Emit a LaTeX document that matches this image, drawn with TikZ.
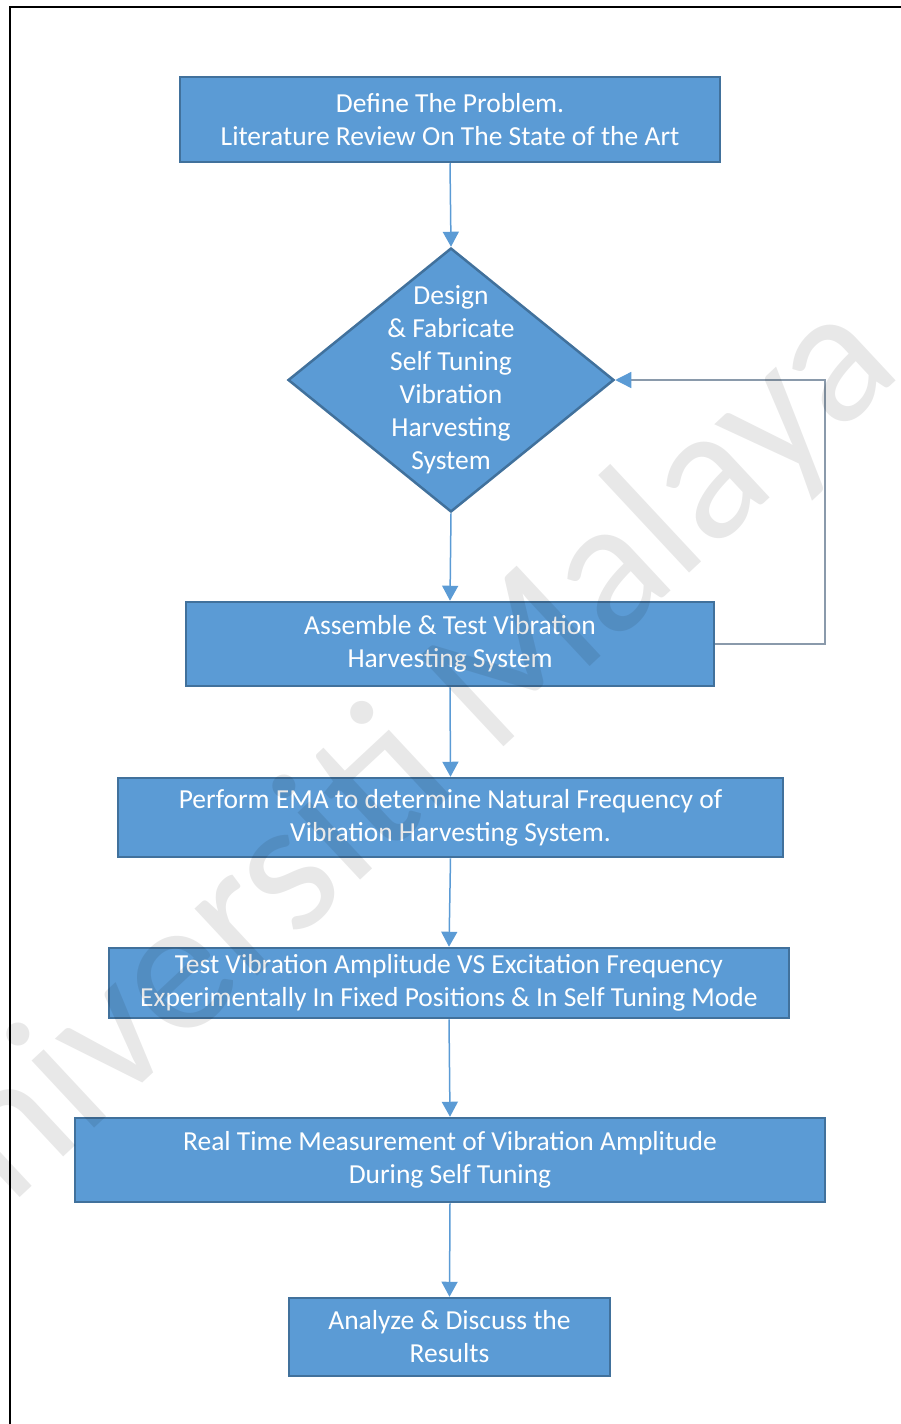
\documentclass[tikz,border=0pt]{standalone}
\usepackage{fontspec}
\setmainfont{Carlito}
\usetikzlibrary{shapes.geometric, arrows.meta}
\definecolor{boxblue}{HTML}{5B9BD5}
\definecolor{boxline}{HTML}{41719C}
\definecolor{loopgray}{HTML}{8A9AAB}

\begin{document}
\begin{tikzpicture}[x=1pt, y=-1pt]
        \tikzstyle{flow_box}=[draw=boxline, line width=2.5pt, fill=boxblue, shape=rectangle, text=white, align=center, inner sep=0pt, font=\fontsize{27.5}{33}\selectfont];
        \tikzstyle{flow_dia}=[draw=boxline, line width=2.5pt, fill=boxblue, shape=diamond, inner sep=0pt, minimum width=326pt, minimum height=264pt];
        \tikzstyle{flow_text}=[text=white, align=center, font=\fontsize{27.5}{33}\selectfont];
        \tikzstyle{myedge}=[line width=1.5pt, -{Triangle[length=15pt, width=16pt]}, color=boxblue];
        \tikzstyle{loopedge}=[line width=1.3pt, -{Triangle[length=16pt, width=16pt, color=boxblue]}, color=loopgray];
        \useasboundingbox (0,0) rectangle (901,1424);

        % frame
        \draw[line width=2pt] (10,1424) -- (10,7) -- (901,7);

        % steps
        \node[flow_box, minimum width=540pt, minimum height=85pt] (problem) at (450,119.5) {Define The Problem.\\Literature Review On The State of the Art};
        \node[flow_dia] (design) at (451,380) {};
        \node[flow_text] (design_txt) at (design) {Design\\\& Fabricate\\Self Tuning\\Vibration\\Harvesting\\System};
        \node[flow_box, minimum width=528pt, minimum height=84pt] (assemble) at (450,644) {Assemble \& Test Vibration\\Harvesting System};
        \node[flow_box, minimum width=665pt, minimum height=79pt] (ema) at (450.5,817.5) {Perform EMA to determine Natural Frequency of\\Vibration Harvesting System.};
        \node[flow_box, minimum width=680pt, minimum height=70pt] (amplitude) at (449,983) {Test Vibration Amplitude VS Excitation Frequency\\Experimentally In Fixed Positions \& In Self Tuning Mode};
        \node[flow_box, minimum width=750pt, minimum height=84pt] (realtime) at (450,1160) {Real Time Measurement of Vibration Amplitude\\During Self Tuning};
        \node[flow_box, minimum width=321pt, minimum height=78pt] (analyze) at (449.5,1337) {Analyze \& Discuss the\\Results};

        % arrows down
        \foreach \a/\b in {problem/design, design/assemble, assemble/ema, ema/amplitude, amplitude/realtime, realtime/analyze}{
          \draw[myedge] (\a.south) -- (\b.north);
        }

        % loop back
        \coordinate (back) at (825,380);
        \draw[loopedge] (assemble.east) -| (back) -- (design.east);

        % watermark over everything
        \node[rotate=43, text=black, opacity=0.09, font=\fontsize{192}{192}\selectfont] (mark) at (378,794) {Universiti Malaya};
\end{tikzpicture}
\end{document}
